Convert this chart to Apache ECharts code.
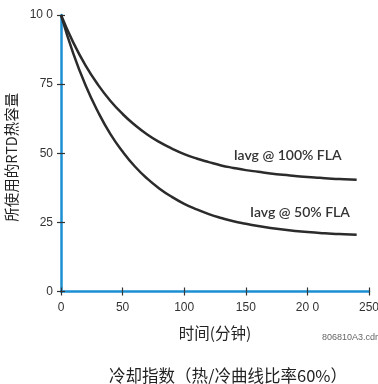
<!DOCTYPE html>
<html><head><meta charset="utf-8">
<script src="https://cdn.jsdelivr.net/npm/echarts@6/dist/echarts.min.js"></script>
<style>html,body{margin:0;padding:0;background:#fff}#c{width:378px;height:384px}</style>
</head><body><div id="c"></div>
<script>
const times = [0,10,20,30,40,50,60,70,80,90,100,110,120,130,140,150,160,170,180,190,200,210,220,230,240];
const fla100 = [100,90.0,81.7,74.8,69.0,64.2,60.2,56.8,54.0,51.7,49.7,48.1,46.8,45.6,44.7,43.9,43.3,42.7,42.2,41.8,41.4,41.1,40.8,40.6,40.4];
const fla50 = [100,86.0,74.5,65.0,57.0,50.6,45.2,40.8,37.2,34.2,31.7,29.7,28.0,26.6,25.4,24.5,23.7,23.0,22.4,21.9,21.5,21.2,20.9,20.7,20.5];
const xTickValues = [0,50,100,150,200,250];
const xTickLabels = ['0','50','100','150','20 0','250'];
const yTickValues = [0,25,50,75,100];
const yTickLabels = ['0','25','50','75','10 0'];
const seriesNames = ['Iavg @ 100% FLA','Iavg @ 50% FLA'];
const labelPos = [[184,49.3],[194,28.7]];
const xName = '时间(分钟)';
const yName = '所使用的RTD热容量';
const title = '冷却指数（热/冷曲线比率60%）';
const code = '806810A3.cdr';

const chart = echarts.init(document.getElementById('c'));
const font = '"Liberation Sans", "Noto Sans CJK SC", sans-serif';
const cjk = '"Noto Sans CJK SC", sans-serif';
const blue = '#1b8fd2';
const dark = '#2b2b2b';
function xl(v){const i=xTickValues.indexOf(v);return i>=0?xTickLabels[i]:'';}
function yl(v){const i=yTickValues.indexOf(v);return i>=0?yTickLabels[i]:'';}
const baseX = {type:'value',min:0,max:250,interval:50,splitLine:{show:false},
  axisLine:{lineStyle:{color:blue,width:2.5}}};
const baseY = {type:'value',min:0,max:100,interval:25,splitLine:{show:false},
  axisLine:{lineStyle:{color:blue,width:2.5}}};
function mk(vals,name,pos){
  return {type:'line',name:name,data:times.map((t,i)=>[t,vals[i]]),smooth:true,symbol:'none',
    lineStyle:{color:dark,width:2.5},
    markPoint:{symbol:'circle',symbolSize:0,silent:true,
      data:[{coord:pos,label:{show:true,formatter:name,color:'#333',fontSize:14,fontFamily:'Lato, "Noto Sans", sans-serif',fontWeight:600}}]}};
}
chart.setOption({
  animation:false,
  grid:{left:61,right:9,top:15,bottom:92.5,containLabel:false,outerBoundsMode:'none'},
  xAxis:[
    Object.assign({},baseX,{axisTick:{show:true,length:4,lineStyle:{color:'#333',width:1.2}},
      axisLabel:{formatter:xl,color:'#333',fontSize:12,fontFamily:font,margin:10},
      name:xName,nameLocation:'middle',nameGap:34,nameTextStyle:{color:'#222',fontSize:15.5,fontFamily:cjk}}),
    Object.assign({},baseX,{position:'bottom',axisLine:{show:false},axisLabel:{show:false},
      axisTick:{show:true,inside:true,length:4,lineStyle:{color:'#333',width:1.2}}})
  ],
  yAxis:[
    Object.assign({},baseY,{axisTick:{show:true,length:4,lineStyle:{color:'#333',width:1.2}},
      axisLabel:{formatter:yl,color:'#333',fontSize:12,fontFamily:font,margin:8},
      name:yName,nameLocation:'middle',nameGap:38,nameRotate:90,nameTextStyle:{color:'#222',fontSize:14.5,fontFamily:cjk,padding:[0,8,0,0]}}),
    Object.assign({},baseY,{position:'left',axisLine:{show:false},axisLabel:{show:false},
      axisTick:{show:true,inside:true,length:4,lineStyle:{color:'#333',width:1.2}}})
  ],
  series:[mk(fla100,seriesNames[0],labelPos[0]),mk(fla50,seriesNames[1],labelPos[1])],
  graphic:[
    {type:'text',right:0,top:333,style:{text:code,fontSize:9,fill:'#666',fontFamily:font}},
    {type:'text',x:228,y:376,style:{text:title,fontSize:16.5,fill:'#222',fontFamily:cjk,align:'center',verticalAlign:'middle'}}
  ]
});
</script></body></html>
